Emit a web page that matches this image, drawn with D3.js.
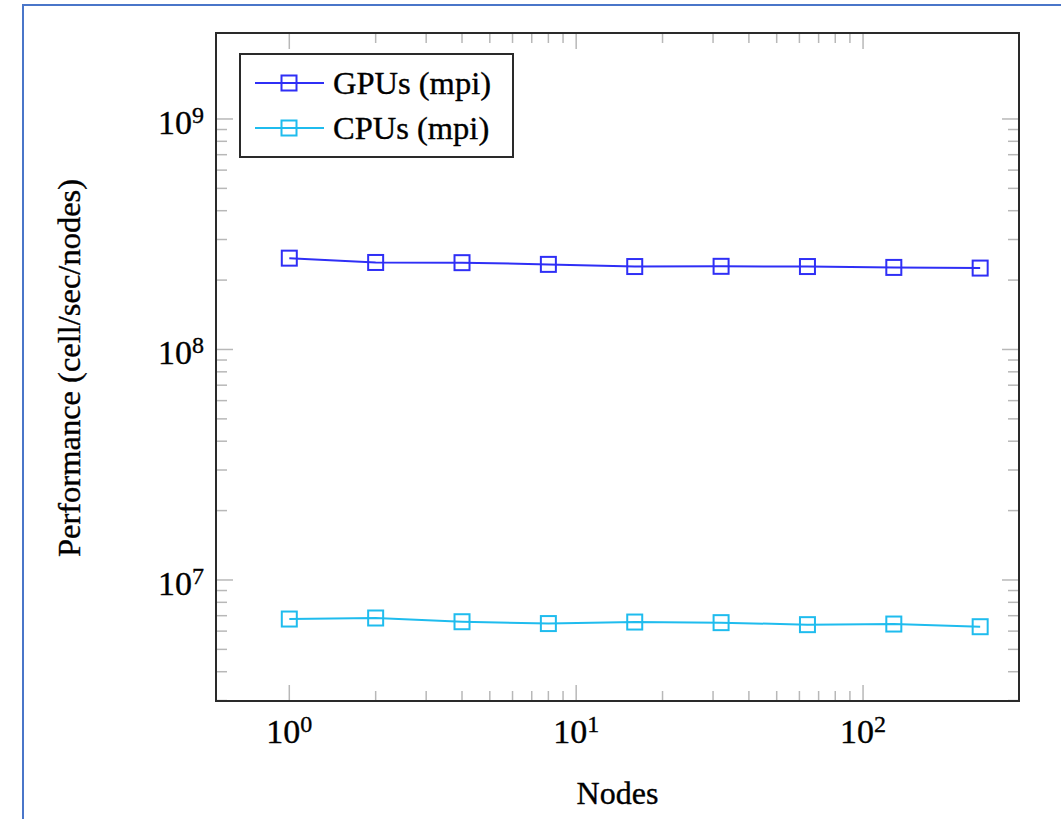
<!DOCTYPE html>
<html>
<head>
<meta charset="utf-8">
<script src="https://cdn.jsdelivr.net/npm/d3@7"></script>
<style>
  html, body { margin: 0; padding: 0; background: #fff; }
  svg text { font-family: "Liberation Serif", "DejaVu Serif", serif; fill: #000; stroke: #000; stroke-width: 0.35px; }
</style>
</head>
<body>
<svg id="chart" width="1061" height="819"></svg>
<script>
// nodes on the x axis
var nodes = [1, 2, 4, 8, 16, 32, 64, 128, 256];
// performance, cell/sec/nodes
var gpuPerf = [2.49e8, 2.385e8, 2.38e8, 2.34e8, 2.29e8, 2.295e8, 2.29e8, 2.27e8, 2.255e8];
var cpuPerf = [6.77e6, 6.84e6, 6.59e6, 6.47e6, 6.57e6, 6.53e6, 6.40e6, 6.44e6, 6.27e6];
var seriesNames = ['GPUs (mpi)', 'CPUs (mpi)'];
var seriesColors = ['#2f2ff6', '#1fbcee'];
var xTickExps = [0, 1, 2];
var yTickExps = [7, 8, 9];

var svg = d3.select('#chart');

// outer frame of the page (only left and top edges are in view)
svg.append('path')
  .attr('d', 'M23,819 L23,5 L1061,5')
  .attr('fill', 'none')
  .attr('stroke', '#4a76c9')
  .attr('stroke-width', 2);

var plot = {left: 216, top: 33, right: 1019, bottom: 701};

var x = d3.scaleLog()
  .domain([Math.pow(10, -0.2555), Math.pow(10, 2.5436)])
  .range([plot.left, plot.right]);
var y = d3.scaleLog()
  .domain([Math.pow(10, 6.475), Math.pow(10, 9.373)])
  .range([plot.bottom, plot.top]);

// minor ticks: only inside the decades pgfplots fills
function minors(decades, scale) {
  var out = [];
  decades.forEach(function(e) {
    for (var k = 2; k <= 9; k++) {
      var v = k * Math.pow(10, e);
      var d = scale.domain();
      if (v > d[0] && v < d[1]) out.push(v);
    }
  });
  return out;
}
var xMinor = minors([0, 1], x);
var yMinor = minors([6, 7, 8], y);
var xMajor = xTickExps.map(function(e) { return Math.pow(10, e); });
var yMajor = yTickExps.map(function(e) { return Math.pow(10, e); });

var tickColor = '#b8b8b8';
var ticks = svg.append('g').attr('stroke', tickColor).attr('stroke-width', 1.5);

function xTicks(vals, len) {
  vals.forEach(function(v) {
    ticks.append('line').attr('x1', x(v)).attr('x2', x(v))
      .attr('y1', plot.bottom).attr('y2', plot.bottom - len);
    ticks.append('line').attr('x1', x(v)).attr('x2', x(v))
      .attr('y1', plot.top).attr('y2', plot.top + len);
  });
}
function yTicks(vals, len) {
  vals.forEach(function(v) {
    ticks.append('line').attr('y1', y(v)).attr('y2', y(v))
      .attr('x1', plot.left).attr('x2', plot.left + len);
    ticks.append('line').attr('y1', y(v)).attr('y2', y(v))
      .attr('x1', plot.right).attr('x2', plot.right - len);
  });
}
xTicks(xMinor, 10);
xTicks(xMajor, 16);
yTicks(yMinor, 11);
yTicks(yMajor, 17);

// frame
svg.append('rect')
  .attr('x', plot.left).attr('y', plot.top)
  .attr('width', plot.right - plot.left).attr('height', plot.bottom - plot.top)
  .attr('fill', 'none').attr('stroke', '#2a2a2a').attr('stroke-width', 2);

// tick labels, 10^n
function powLabel(g, e) {
  g.append('tspan').text('10');
  g.append('tspan').attr('font-size', 24).attr('dy', -11).text(e);
}
xTickExps.forEach(function(e) {
  var t = svg.append('text')
    .attr('x', x(Math.pow(10, e))).attr('y', 743)
    .attr('text-anchor', 'middle').attr('font-size', 34);
  powLabel(t, e);
});
yTickExps.forEach(function(e) {
  var t = svg.append('text')
    .attr('x', 204).attr('y', y(Math.pow(10, e)) + 15)
    .attr('text-anchor', 'end').attr('font-size', 34);
  powLabel(t, e);
});

// axis titles
svg.append('text')
  .attr('x', (plot.left + plot.right) / 2).attr('y', 804)
  .attr('text-anchor', 'middle').attr('font-size', 32)
  .text('Nodes');
svg.append('text')
  .attr('transform', 'translate(80,' + ((plot.top + plot.bottom) / 2 + 1) + ') rotate(-90)')
  .attr('text-anchor', 'middle').attr('font-size', 32.5)
  .text('Performance (cell/sec/nodes)');

// series
var series = [gpuPerf, cpuPerf];
var line = d3.line()
  .x(function(d) { return x(d[0]); })
  .y(function(d) { return y(d[1]); });
var ms = 15;

series.forEach(function(vals, i) {
  var pts = nodes.map(function(n, j) { return [n, vals[j]]; });
  var g = svg.append('g');
  g.append('path').datum(pts)
    .attr('d', line)
    .attr('fill', 'none')
    .attr('stroke', seriesColors[i])
    .attr('stroke-width', 2);
  g.selectAll('rect').data(pts).enter().append('rect')
    .attr('x', function(d) { return x(d[0]) - ms / 2; })
    .attr('y', function(d) { return y(d[1]) - ms / 2; })
    .attr('width', ms).attr('height', ms)
    .attr('fill', 'none')
    .attr('stroke', seriesColors[i])
    .attr('stroke-width', 2);
});

// legend
var lg = svg.append('g');
lg.append('rect')
  .attr('x', 240).attr('y', 54).attr('width', 273).attr('height', 103)
  .attr('fill', '#fff').attr('stroke', '#2a2a2a').attr('stroke-width', 2);
seriesNames.forEach(function(name, i) {
  var cy = 83 + i * 45;
  lg.append('line')
    .attr('x1', 255).attr('x2', 324).attr('y1', cy).attr('y2', cy)
    .attr('stroke', seriesColors[i]).attr('stroke-width', 2);
  lg.append('rect')
    .attr('x', 289 - ms / 2).attr('y', cy - ms / 2).attr('width', ms).attr('height', ms)
    .attr('fill', 'none').attr('stroke', seriesColors[i]).attr('stroke-width', 2);
  lg.append('text')
    .attr('x', 333).attr('y', cy + 10.5).attr('font-size', 32.5)
    .text(name);
});
</script>
</body>
</html>
